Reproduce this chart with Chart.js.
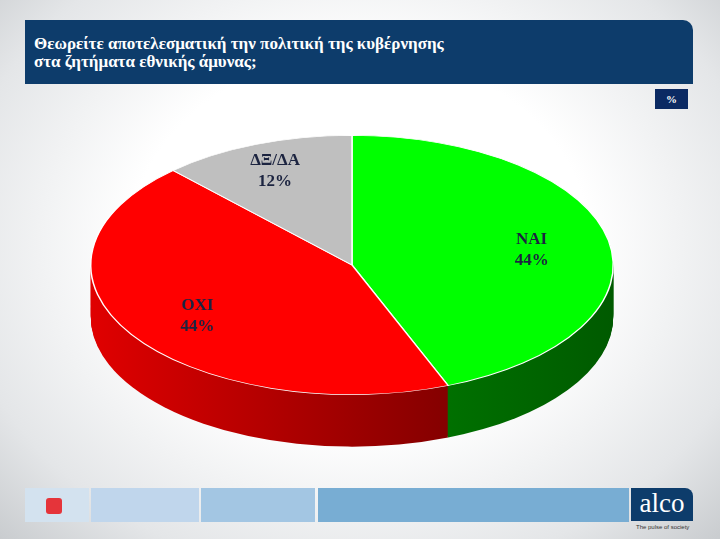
<!DOCTYPE html>
<html>
<head>
<meta charset="utf-8">
<script src="https://cdn.jsdelivr.net/npm/chart.js@4/dist/chart.umd.min.js"></script>
<style>
  body { margin: 0; width: 720px; height: 539px; overflow: hidden; position: relative;
    background: radial-gradient(ellipse at 50% 45%, #ffffff 45%, #e4e6e8 80%, #c9cccf 100%);
    font-family: "Times New Roman", "Liberation Serif", "DejaVu Serif", serif; }
  #head { position: absolute; left: 25px; top: 20px; width: 668px; height: 64px; background: #0d3c6b;
    border-top-right-radius: 10px; color: #fff; font-weight: bold; font-size: 17px; line-height: 18px;
    box-sizing: border-box; padding: 15px 0 0 9px; }
  #pct { position: absolute; left: 655px; top: 89px; width: 33px; height: 20px; background: #0b2a63;
    color: #fff; font-size: 11px; font-weight: bold; text-align: center; line-height: 20px; }
  .fb { position: absolute; top: 488px; height: 34px; }
  #wrap { position: absolute; left: 0; top: 0; width: 720px; height: 539px; }
</style>
</head>
<body>
<div id="head">Θεωρείτε αποτελεσματική την πολιτική της κυβέρνησης<br>στα ζητήματα εθνικής άμυνας;</div>
<div id="pct">%</div>
<div class="fb" style="left:25px;width:64px;background:#d3e2ef"><div style="margin:10px 0 0 21px;width:16px;height:16px;background:#e5343a;border-radius:3px"></div></div>
<div class="fb" style="left:91px;width:108px;background:#c0d6ec"></div>
<div class="fb" style="left:201px;width:114px;background:#a3c6e3"></div>
<div class="fb" style="left:318px;width:311px;background:#78add3"></div>
<div class="fb" style="left:631px;width:62px;height:33px;background:#0d3c6b;border-top-right-radius:8px;color:#fff;font-size:27px;text-align:center;line-height:30px">alco</div>
<div style="position:absolute;left:636px;top:524px;font-family:'Liberation Sans';font-size:6px;color:#333">The pulse of society</div>
<div id="wrap"><canvas id="c"></canvas></div>
<script>
const categories = ["NAI", "ΟΧΙ", "ΔΞ/ΔΑ"];
const values = [44, 44, 12];
const valueLabels = ["44%", "44%", "12%"];
const topColors = ["#00ff00", "#ff0000", "#bfbfbf"];
const sideColors = [["#00a000", "#005a00"], ["#e00000", "#5a0000"], ["#909090", "#606060"]];

const SQUASH = 130 / 262;
const DEPTH = 52;
const LABEL_FONT = "bold 17px 'Times New Roman', 'Liberation Serif', serif";

const tilt = {
  id: "tilt",
  beforeDatasetsDraw(chart) {
    const ctx = chart.ctx;
    const arcs = chart.getDatasetMeta(0).data;
    const cx = arcs[0].x, cy = arcs[0].y;
    ctx.save();
    ctx.translate(cx, cy);
    ctx.scale(1, SQUASH);
    ctx.translate(-cx, -cy);
    // side walls
    arcs.forEach((a, i) => {
      const g = ctx.createLinearGradient(cx - a.outerRadius, 0, cx + a.outerRadius, 0);
      g.addColorStop(0, sideColors[i][0]);
      g.addColorStop(1, sideColors[i][1]);
      ctx.fillStyle = g;
      for (let d = DEPTH; d > 0; d--) {
        ctx.beginPath();
        ctx.moveTo(cx, cy + d / SQUASH);
        ctx.arc(cx, cy + d / SQUASH, a.outerRadius, a.startAngle, a.endAngle);
        ctx.closePath();
        ctx.fill();
      }
    });
  },
  afterDatasetsDraw(chart) {
    const ctx = chart.ctx;
    ctx.restore();
    const arcs = chart.getDatasetMeta(0).data;
    ctx.save();
    ctx.fillStyle = "#1c2440";
    ctx.font = LABEL_FONT;
    ctx.textAlign = "center";
    arcs.forEach((a, i) => {
      const mid = (a.startAngle + a.endAngle) / 2;
      const r = a.outerRadius * (i === 2 ? 0.8 : 0.7);
      const x = a.x + r * Math.cos(mid);
      const y = a.y + r * Math.sin(mid) * SQUASH;
      ctx.fillText(categories[i], x, y - 4);
      ctx.fillText(valueLabels[i], x, y + 17);
    });
    ctx.restore();
  }
};

new Chart(document.getElementById("c"), {
  type: "pie",
  data: {
    labels: categories,
    datasets: [{ data: values, backgroundColor: topColors, borderColor: "#ffffff", borderWidth: 1.5 }]
  },
  options: {
    responsive: true,
    maintainAspectRatio: false,
    animation: false,
    layout: { padding: { left: 90, right: 106, top: 3, bottom: 12 } },
    plugins: { legend: { display: false }, tooltip: { enabled: false } }
  },
  plugins: [tilt]
});
</script>
</body>
</html>
